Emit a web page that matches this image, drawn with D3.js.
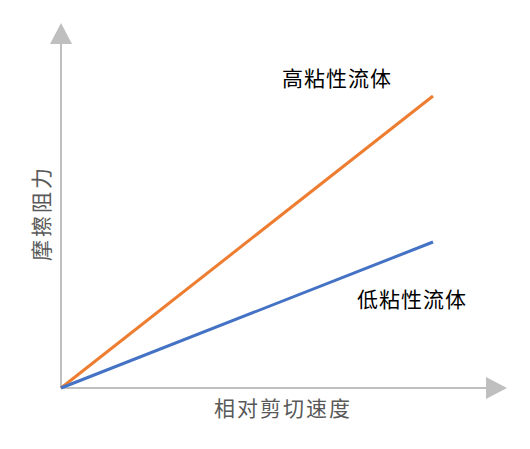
<!DOCTYPE html>
<html>
<head>
<meta charset="utf-8">
<script src="https://cdn.jsdelivr.net/npm/d3@7"></script>
<style>
  body { margin: 0; background: #fff; }
  text { font-family: "Noto Sans CJK SC", sans-serif; }
</style>
</head>
<body>
<div id="chart"></div>
<script>
// 数据
const speed = [0, 10];          // 相对剪切速度
const highVisc = [0, 8];        // 高粘性流体
const lowVisc = [0, 4];         // 低粘性流体
const seriesNames = ['高粘性流体', '低粘性流体'];
const xTitle = '相对剪切速度';
const yTitle = '摩擦阻力';

const width = 530, height = 449;
const svg = d3.select('#chart').append('svg')
    .attr('width', width)
    .attr('height', height);

const x = d3.scaleLinear().domain([0, 10]).range([61, 433]);
const y = d3.scaleLinear().domain([0, 10]).range([388, 23]);

const axisColor = '#bfbfbf';

// 坐标轴 + 箭头
svg.append('line')
    .attr('x1', x(0)).attr('y1', y(0))
    .attr('x2', 488).attr('y2', y(0))
    .attr('stroke', axisColor).attr('stroke-width', 2);
svg.append('path')
    .attr('d', `M486,${y(0) - 11} L507,${y(0)} L486,${y(0) + 11} Z`)
    .attr('fill', axisColor);

svg.append('line')
    .attr('x1', x(0)).attr('y1', y(0))
    .attr('x2', x(0)).attr('y2', 42)
    .attr('stroke', axisColor).attr('stroke-width', 2);
svg.append('path')
    .attr('d', `M${x(0) - 11},44 L${x(0)},23 L${x(0) + 11},44 Z`)
    .attr('fill', axisColor);

// 线
const line = d3.line().x(d => x(d[0])).y(d => y(d[1]));
const series = [
    { name: seriesNames[0], values: highVisc, color: '#ed7d31' },
    { name: seriesNames[1], values: lowVisc, color: '#4472c4' }
];
series.forEach(s => {
    svg.append('path')
        .datum(speed.map((v, i) => [v, s.values[i]]))
        .attr('d', line)
        .attr('fill', 'none')
        .attr('stroke', s.color)
        .attr('stroke-width', 3);
});

// 标签
svg.append('text')
    .attr('x', 337).attr('y', 86)
    .attr('text-anchor', 'middle')
    .style('font-size', '21px')
    .style('letter-spacing', '1px')
    .attr('fill', '#000')
    .text(seriesNames[0]);
svg.append('text')
    .attr('x', 412).attr('y', 307)
    .attr('text-anchor', 'middle')
    .style('font-size', '21px')
    .style('letter-spacing', '1px')
    .attr('fill', '#000')
    .text(seriesNames[1]);

svg.append('text')
    .attr('x', 283).attr('y', 416)
    .attr('text-anchor', 'middle')
    .style('font-size', '21px')
    .style('letter-spacing', '2px')
    .attr('fill', '#595959')
    .text(xTitle);

svg.append('text')
    .attr('transform', 'translate(49,213) rotate(-90)')
    .attr('text-anchor', 'middle')
    .style('font-size', '21px')
    .style('letter-spacing', '3px')
    .attr('fill', '#595959')
    .text(yTitle);
</script>
</body>
</html>
